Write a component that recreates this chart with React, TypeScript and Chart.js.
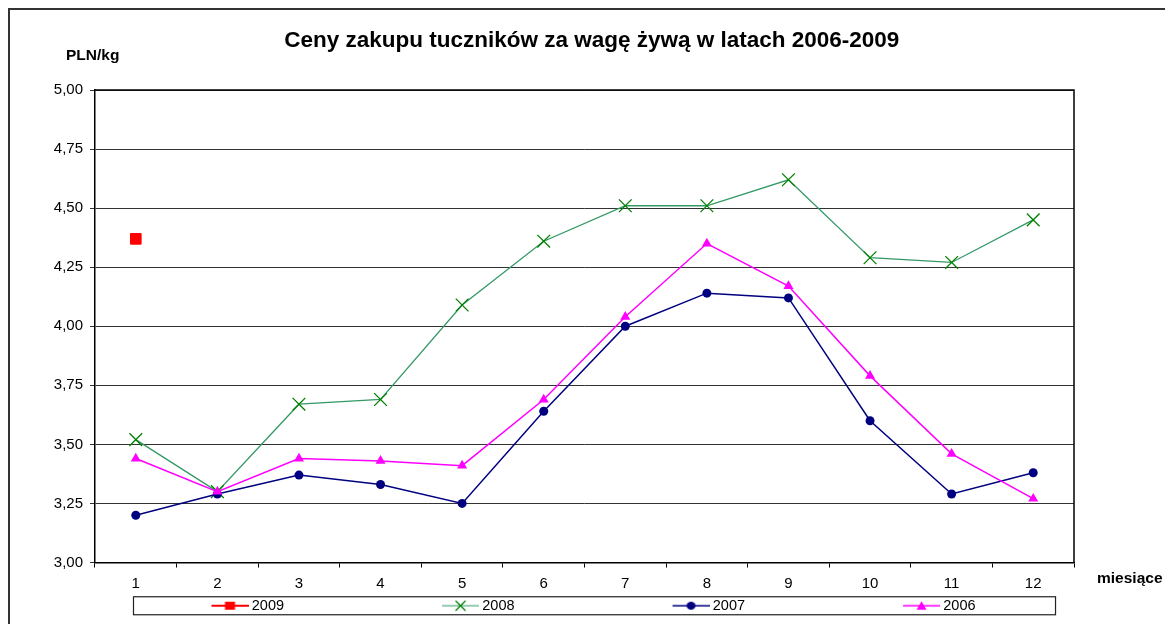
import React, { useEffect, useRef } from 'react';
import { Chart, registerables } from 'chart.js';

Chart.register(...registerables);

const FONT = "'Liberation Sans', Arial, Helvetica, sans-serif";

const chartTitle = 'Ceny zakupu tuczników za wagę żywą w latach 2006-2009';
const yAxisTitle = 'PLN/kg';
const xAxisTitle = 'miesiące';

const months = ['1', '2', '3', '4', '5', '6', '7', '8', '9', '10', '11', '12'];
const seriesNames = ['2009', '2008', '2007', '2006'];

const prices2009 = [4.37, null, null, null, null, null, null, null, null, null, null, null];
const prices2008 = [3.52, 3.30, 3.67, 3.69, 4.09, 4.36, 4.51, 4.51, 4.62, 4.29, 4.27, 4.45];
const prices2007 = [3.20, 3.29, 3.37, 3.33, 3.25, 3.64, 4.00, 4.14, 4.12, 3.60, 3.29, 3.38];
const prices2006 = [3.44, 3.30, 3.44, 3.43, 3.41, 3.69, 4.04, 4.35, 4.17, 3.79, 3.46, 3.27];

const yMin = 3;
const yMax = 5;
const yStep = 0.25;

const LEG_BOX = 181;
const ICON_EXTRA = 4;

function makeIcon(kind: string): HTMLCanvasElement {
  const c = document.createElement('canvas');
  const w = LEG_BOX + ICON_EXTRA * 2;
  c.width = w;
  c.height = 16;
  const ctx = c.getContext('2d') as CanvasRenderingContext2D;
  const x1 = w - 37;
  const x2 = w;
  const cy = 8;
  const cx = (x1 + x2) / 2;
  const line = (color: string, lw: number) => {
    ctx.strokeStyle = color;
    ctx.lineWidth = lw;
    ctx.beginPath();
    ctx.moveTo(x1, cy);
    ctx.lineTo(x2, cy);
    ctx.stroke();
  };
  if (kind === '2009') {
    line('#ff0000', 2);
    ctx.fillStyle = '#ff0000';
    ctx.fillRect(cx - 5, cy - 4, 10, 8);
  } else if (kind === '2008') {
    line('#339966', 1.2);
    ctx.strokeStyle = '#008000';
    ctx.lineWidth = 1.2;
    ctx.beginPath();
    ctx.moveTo(cx - 5, cy - 5);
    ctx.lineTo(cx + 5, cy + 5);
    ctx.moveTo(cx + 5, cy - 5);
    ctx.lineTo(cx - 5, cy + 5);
    ctx.stroke();
  } else if (kind === '2007') {
    line('#000080', 1.5);
    ctx.fillStyle = '#000080';
    ctx.beginPath();
    ctx.ellipse(cx, cy, 4.5, 4, 0, 0, Math.PI * 2);
    ctx.fill();
  } else {
    line('#ff00ff', 1.5);
    ctx.fillStyle = '#ff00ff';
    ctx.beginPath();
    ctx.moveTo(cx, cy - 4.5);
    ctx.lineTo(cx + 5, cy + 4);
    ctx.lineTo(cx - 5, cy + 4);
    ctx.closePath();
    ctx.fill();
  }
  return c;
}

const decorPlugin = {
  id: 'decor',
  afterDraw(chart: any) {
    const { ctx, chartArea: a, width, height } = chart;
    ctx.save();
    // outer frame (left and top)
    ctx.fillStyle = '#333333';
    ctx.fillRect(0, 0, width, 2);
    ctx.fillRect(0, 0, 2, height);
    // plot frame top / right
    ctx.strokeStyle = '#000000';
    ctx.lineWidth = 1.5;
    ctx.beginPath();
    ctx.moveTo(a.left, a.top);
    ctx.lineTo(a.right, a.top);
    ctx.lineTo(a.right, a.bottom);
    ctx.stroke();
    // axis titles
    ctx.fillStyle = '#000000';
    ctx.font = `bold 15.5px ${FONT}`;
    ctx.textAlign = 'left';
    ctx.textBaseline = 'alphabetic';
    ctx.fillText(yAxisTitle, a.left - 29, a.top - 30);
    ctx.fillText(xAxisTitle, a.right + 23, a.bottom + 20);
    // legend frame
    const hb = chart.legend && chart.legend.legendHitBoxes;
    if (hb && hb.length) {
      const first = hb[0];
      const last = hb[hb.length - 1];
      const left = first.left + LEG_BOX + ICON_EXTRA - 37 - 78;
      const right = last.left + last.width + 80;
      const cy = first.top + first.height / 2;
      ctx.strokeStyle = '#222222';
      ctx.lineWidth = 1.2;
      ctx.strokeRect(left, cy - 9, right - left, 18);
    }
    ctx.restore();
  },
};

export default function App() {
  const ref = useRef<HTMLCanvasElement | null>(null);
  useEffect(() => {
    if (!ref.current) return;
    const icons = seriesNames.map((n) => makeIcon(n));
    const chart = new Chart(ref.current, {
      type: 'line',
      data: {
        labels: months,
        datasets: [
          {
            label: seriesNames[0],
            data: prices2009,
            showLine: false,
            pointStyle: 'rect',
            pointRadius: 7.5,
            pointBackgroundColor: '#ff0000',
            pointBorderColor: '#ff0000',
            borderColor: '#ff0000',
            backgroundColor: '#ff0000',
            order: 3,
          },
          {
            label: seriesNames[1],
            data: prices2008,
            borderColor: '#339966',
            borderWidth: 1.3,
            pointStyle: 'crossRot',
            pointRadius: 9,
            pointBorderColor: '#008000',
            pointBorderWidth: 1.3,
            pointBackgroundColor: '#008000',
            tension: 0,
            order: 2,
          },
          {
            label: seriesNames[2],
            data: prices2007,
            borderColor: '#000080',
            borderWidth: 1.5,
            pointStyle: 'circle',
            pointRadius: 4.5,
            pointBackgroundColor: '#000080',
            pointBorderColor: '#000080',
            pointBorderWidth: 0,
            tension: 0,
            order: 1,
          },
          {
            label: seriesNames[3],
            data: prices2006,
            borderColor: '#ff00ff',
            borderWidth: 1.5,
            pointStyle: 'triangle',
            pointRadius: 5.8,
            pointBackgroundColor: '#ff00ff',
            pointBorderColor: '#ff00ff',
            pointBorderWidth: 0,
            tension: 0,
            order: 0,
          },
        ],
      },
      options: {
        responsive: false,
        animation: false,
        devicePixelRatio: 1,
        layout: { padding: { left: 45.5, right: 43, top: 0, bottom: 1 } },
        plugins: {
          tooltip: { enabled: false },
          title: {
            display: true,
            text: chartTitle,
            color: '#000000',
            font: { family: FONT, size: 22.5, weight: 'bold' },
            padding: { top: 19, bottom: 36 },
          },
          legend: {
            display: true,
            position: 'bottom',
            align: 'start',
            labels: {
              usePointStyle: true,
              pointStyleWidth: LEG_BOX,
              padding: 10,
              color: '#000000',
              font: { family: FONT, size: 14.5 },
              generateLabels: () =>
                seriesNames.map((n, i) => ({
                  text: n,
                  pointStyle: icons[i],
                  fillStyle: 'transparent',
                  strokeStyle: 'transparent',
                  lineWidth: 0,
                  hidden: false,
                  datasetIndex: i,
                  fontColor: '#000000',
                })),
            },
          },
        },
        scales: {
          x: {
            type: 'category',
            offset: true,
            afterFit: (s: any) => {
              s.height = 26;
            },
            grid: {
              display: true,
              offset: true,
              drawOnChartArea: false,
              drawTicks: true,
              tickLength: 5,
              color: '#000000',
              lineWidth: 1,
            },
            border: { display: true, color: '#000000', width: 1.5 },
            ticks: {
              color: '#000000',
              font: { family: FONT, size: 15 },
              padding: 7,
              maxRotation: 0,
              autoSkip: false,
            },
          },
          y: {
            min: yMin,
            max: yMax,
            afterFit: (s: any) => {
              s.width = 41.5;
            },
            grid: {
              color: '#333333',
              lineWidth: 1,
              tickLength: 5,
              drawTicks: true,
            },
            border: { display: true, color: '#000000', width: 1.5 },
            ticks: {
              stepSize: yStep,
              color: '#000000',
              font: { family: FONT, size: 15 },
              padding: 7,
              callback: (v: any) => Number(v).toFixed(2).replace('.', ','),
            },
          },
          yR: {
            position: 'right',
            display: true,
            afterFit: (s: any) => {
              s.width = 56;
            },
            grid: { display: false },
            border: { display: false },
            ticks: { display: false },
          },
        },
      },
      plugins: [decorPlugin],
    } as any);
    return () => chart.destroy();
  }, []);
  return <canvas ref={ref} width={1165} height={616} style={{ display: 'block' }} />;
}
